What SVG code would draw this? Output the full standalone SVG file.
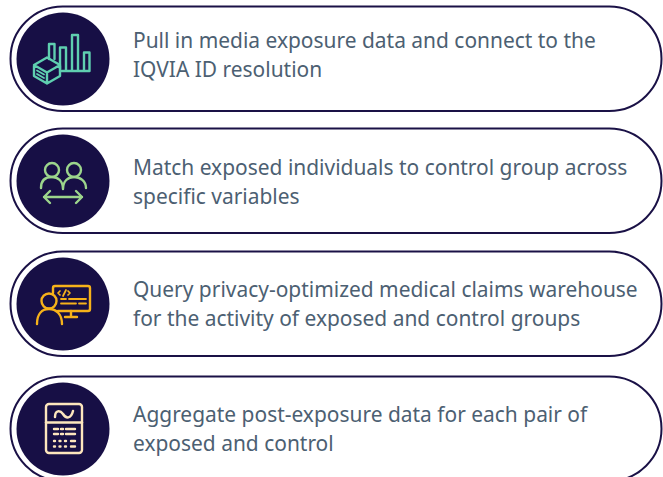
<svg xmlns="http://www.w3.org/2000/svg" width="663" height="477" viewBox="0 0 663 477">
<style>
.pill{fill:#fff;stroke:#1a1146;stroke-width:2}
.disc{fill:#170f45}
.t{font-family:"Noto Sans","Open Sans",sans-serif;font-size:20.950px;fill:#4c6072}
.i{fill:none;stroke-width:2.400;stroke-linecap:round;stroke-linejoin:round}
</style>
<rect width="663" height="477" fill="#fff"/>
<g id="step-1">
<rect class="pill" x="10.500" y="6.500" width="651" height="104.500" rx="52.200"/>
<circle class="disc" cx="63" cy="59" r="46.500"/>
<g class="i" stroke="#5fcfb0">
<path d="M49 59V44H54.500V59M60 69V47.500H66V71M72 71V35H78V71M84 71V52.500H89.500V71H60"/>
<path d="M34 65L47 57.500L60 65V76L47 83.500L34 76ZM34 65L47 72.500L60 65M47 72.500V83.500"/>
<path d="M37 70.500L44 74.500M37 74L44 78" stroke-width="1.800"/>
</g>
<text class="t" x="133" y="47.500">Pull in media exposure data and connect to the</text>
<text class="t" x="133" y="76.500">IQVIA ID resolution</text>
</g>
<g id="step-2">
<rect class="pill" x="10.500" y="128.500" width="651" height="104.500" rx="52.200"/>
<circle class="disc" cx="63" cy="181" r="46.500"/>
<g class="i" stroke="#9cd58c">
<circle cx="52" cy="170" r="7"/><circle cx="74" cy="170" r="7"/>
<path d="M41 188C41 180 46 177 52 177C58 177 63 181 63 189C63 181 68 177 74 177C80 177 86 181 86 188"/>
<path d="M44 197H82M50 191L44 197L50 203M76 191L82 197L76 203"/>
</g>
<text class="t" x="133" y="174.500">Match exposed individuals to control group across</text>
<text class="t" x="133" y="203.500">specific variables</text>
</g>
<g id="step-3">
<rect class="pill" x="10.500" y="251.500" width="651" height="104.500" rx="52.200"/>
<circle class="disc" cx="63" cy="304" r="46.500"/>
<g class="i" stroke="#f6b21a">
<path d="M53 293V288C53 287 54 286 55 286H88C89 286 90 287 90 288V309C90 310 89 311 88 311H58"/>
<path d="M71 311V317M65 317H77"/>
<path d="M69 299H86M61 299H66M61 303.500H76M79 303.500H86" stroke-width="1.800"/>
<circle cx="49" cy="301" r="7.500"/>
<path d="M37 324C37 314 42 309 49 309C56 309 62 314 62 324"/>
<path d="M60 291L58 293L60 295M68 291L70 293L68 295M66 290L63 296" stroke-width="1.700"/>
</g>
<text class="t" x="133" y="296.500">Query privacy-optimized medical claims warehouse</text>
<text class="t" x="133" y="325.500">for the activity of exposed and control groups</text>
</g>
<g id="step-4">
<rect class="pill" x="10.500" y="376.500" width="651" height="104.500" rx="52.200"/>
<circle class="disc" cx="63" cy="429" r="46.500"/>
<g class="i" stroke="#fde6bd">
<rect x="46" y="404" width="36" height="49" rx="3"/>
<path d="M46 422.500H82"/>
<path d="M55 417C55 410 60 410 63 414C66 419 71 419 73 411" stroke-width="2.500"/>
<path d="M54 429H58M61 429H63M66 429H75M54 434H58M61 434H63M66 434H75M54 441H55M59.500 441H60.500M65 441H66M71 441H75M54 446.500H55M59.500 446.500H60.500M65 446.500H66M71 446.500H75" stroke-width="2.400"/>
</g>
<text class="t" x="133" y="421.500">Aggregate post-exposure data for each pair of</text>
<text class="t" x="133" y="450.500">exposed and control</text>
</g>
</svg>
